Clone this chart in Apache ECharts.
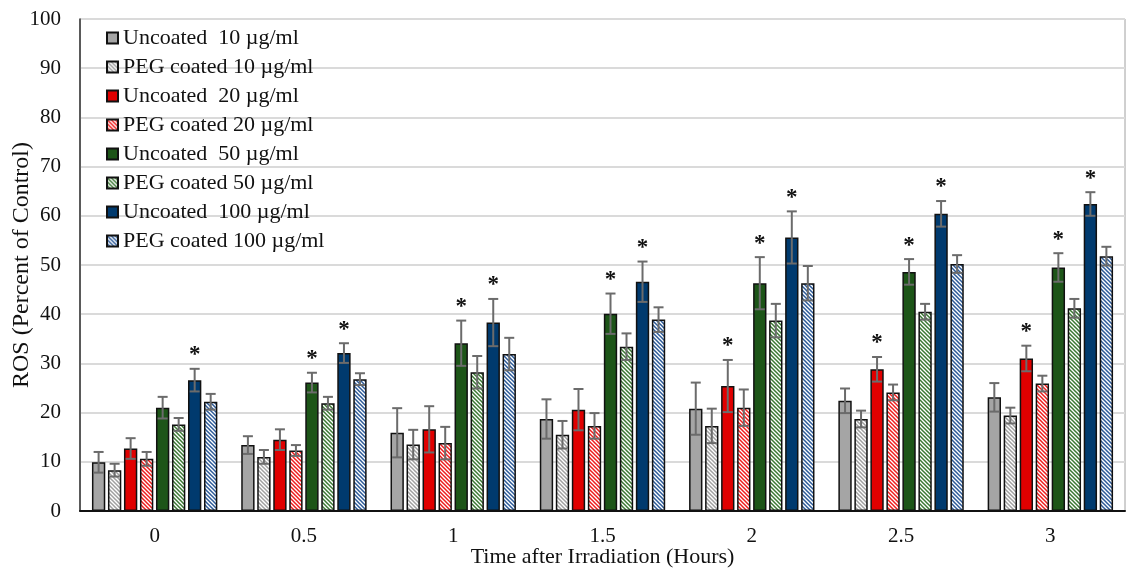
<!DOCTYPE html>
<html>
<head>
<meta charset="utf-8">
<script src="https://cdn.jsdelivr.net/npm/echarts@6/dist/echarts.min.js"></script>
<style>
  html, body { margin: 0; padding: 0; background: #fff; }
  #chart { width: 1129px; height: 569px; }
</style>
</head>
<body>
<div id="chart"></div>
<script>
// time points (hours)
const categories = ['0', '0.5', '1', '1.5', '2', '2.5', '3'];

// mean ROS (% of control)
const uncoated10  = [9.9, 13.4, 15.9, 18.7, 20.8, 22.4, 23.1];
const peg10       = [8.3, 11.0, 13.5, 15.5, 17.3, 18.7, 19.4];
const uncoated20  = [12.7, 14.5, 16.6, 20.6, 25.4, 28.8, 31.0];
const peg20       = [10.6, 12.3, 13.8, 17.3, 21.0, 24.1, 25.9];
const uncoated50  = [21.0, 26.1, 34.1, 40.1, 46.3, 48.6, 49.5];
const peg50       = [17.6, 21.9, 28.2, 33.4, 38.7, 40.5, 41.2];
const uncoated100 = [26.6, 32.1, 38.3, 46.6, 55.6, 60.4, 62.4];
const peg100      = [22.2, 26.8, 31.9, 38.9, 46.3, 50.2, 51.8];

// error bars (+/-)
const errU10  = [2.1, 1.8, 5.0, 4.0, 5.3, 2.5, 2.9];
const errP10  = [1.3, 1.4, 3.0, 2.8, 3.5, 1.7, 1.6];
const errU20  = [2.1, 2.1, 4.7, 4.2, 5.3, 2.5, 2.6];
const errP20  = [1.4, 1.1, 3.3, 2.6, 3.7, 1.6, 1.6];
const errU50  = [2.2, 2.0, 4.6, 4.1, 5.3, 2.6, 2.9];
const errP50  = [1.3, 1.3, 3.3, 2.7, 3.4, 1.6, 1.9];
const errU100 = [2.3, 2.0, 4.8, 4.1, 5.3, 2.6, 2.4];
const errP100 = [1.6, 1.2, 3.3, 2.5, 3.5, 1.8, 1.9];

// significance marks (1 = asterisk)
const starU20  = [0, 0, 0, 0, 1, 1, 1];
const starU50  = [0, 1, 1, 1, 1, 1, 1];
const starU100 = [1, 1, 1, 1, 1, 1, 1];
const noStar   = [0, 0, 0, 0, 0, 0, 0];

const FONT = '"Liberation Serif", "DejaVu Serif", serif';
const BAR_CAT_GAP = 0.16;
const BAR_GAP = 0.2;

// diagonal hatch for PEG coated bars
function hatch(color) {
  const c = document.createElement('canvas');
  c.width = 4; c.height = 4;
  const ctx = c.getContext('2d');
  ctx.fillStyle = '#fff';
  ctx.fillRect(0, 0, 4, 4);
  ctx.strokeStyle = color;
  ctx.lineWidth = 1.5;
  ctx.beginPath();
  ctx.moveTo(-1, -1); ctx.lineTo(5, 5);
  ctx.moveTo(-1, 3); ctx.lineTo(1, 5);
  ctx.moveTo(3, -1); ctx.lineTo(5, 1);
  ctx.stroke();
  return { image: c, repeat: 'repeat' };
}

const groups = [
  { name: 'Uncoated  10 \u00b5g/ml',  data: uncoated10,  err: errU10,  star: noStar,   color: '#a5a5a5' },
  { name: 'PEG coated 10 \u00b5g/ml', data: peg10,       err: errP10,  star: noStar,   color: hatch('#a0a0a0') },
  { name: 'Uncoated  20 \u00b5g/ml',  data: uncoated20,  err: errU20,  star: starU20,  color: '#e00000' },
  { name: 'PEG coated 20 \u00b5g/ml', data: peg20,       err: errP20,  star: noStar,   color: hatch('#ee1c1c') },
  { name: 'Uncoated  50 \u00b5g/ml',  data: uncoated50,  err: errU50,  star: starU50,  color: '#1d5518' },
  { name: 'PEG coated 50 \u00b5g/ml', data: peg50,       err: errP50,  star: noStar,   color: hatch('#3b7833') },
  { name: 'Uncoated  100 \u00b5g/ml', data: uncoated100, err: errU100, star: starU100, color: '#003a6e' },
  { name: 'PEG coated 100 \u00b5g/ml',data: peg100,      err: errP100, star: noStar,   color: hatch('#2c5a98') }
];

const n = groups.length;

// error bars + asterisks, placed at the same offset as bar k
function errorRenderer(k) {
  return function (params, api) {
    const idx = api.value(0);
    const mean = api.value(1);
    const err = api.value(2);
    const star = api.value(3);
    const band = api.size([1, 0])[0];
    const w = band * (1 - BAR_CAT_GAP) / (n + (n - 1) * BAR_GAP);
    const groupW = n * w + (n - 1) * BAR_GAP * w;
    const center = api.coord([idx, 0])[0];
    const x = center - groupW / 2 + k * w * (1 + BAR_GAP) + w / 2;
    const yHi = api.coord([idx, mean + err])[1];
    const yLo = api.coord([idx, mean - err])[1];
    const cap = 5;
    const style = { stroke: '#6b6b6b', lineWidth: 2 };
    const children = [
      { type: 'line', shape: { x1: x, y1: yHi, x2: x, y2: yLo }, style: style },
      { type: 'line', shape: { x1: x - cap, y1: yHi, x2: x + cap, y2: yHi }, style: style },
      { type: 'line', shape: { x1: x - cap, y1: yLo, x2: x + cap, y2: yLo }, style: style }
    ];
    if (star) {
      children.push({
        type: 'text',
        style: {
          text: '*', x: x, y: yHi - 2,
          align: 'center', verticalAlign: 'bottom',
          font: 'bold 23px ' + FONT, fill: '#111'
        }
      });
    }
    return { type: 'group', children: children };
  };
}

const series = [];
groups.forEach(g => {
  series.push({
    name: g.name,
    type: 'bar',
    data: g.data,
    barGap: (BAR_GAP * 100) + '%',
    barCategoryGap: (BAR_CAT_GAP * 100) + '%',
    itemStyle: { color: g.color, borderColor: '#111', borderWidth: 1.5 },
    animation: false
  });
});
groups.forEach((g, k) => {
  series.push({
    type: 'custom',
    renderItem: errorRenderer(k),
    data: g.data.map((v, i) => [i, v, g.err[i], g.star[i]]),
    z: 10,
    silent: true,
    animation: false
  });
});

const chart = echarts.init(document.getElementById('chart'));
chart.setOption({
  backgroundColor: '#fff',
  animation: false,
  grid: {
    left: 80, right: 4, top: 19, bottom: 58,
    outerBoundsMode: 'none', containLabel: false,
    show: true, borderColor: '#a0a0a0', borderWidth: 1
  },
  legend: {
    data: groups.map(g => g.name),
    orient: 'vertical',
    left: 101,
    top: 22,
    icon: 'rect',
    itemWidth: 11,
    itemHeight: 11,
    itemGap: 7,
    textStyle: { fontFamily: FONT, fontSize: 22, color: '#111', lineHeight: 22 }
  },
  xAxis: {
    type: 'category',
    data: categories,
    name: 'Time after Irradiation (Hours)',
    nameLocation: 'middle',
    nameGap: 35,
    nameMoveOverlap: false,
    nameTextStyle: { fontFamily: FONT, fontSize: 22, color: '#111' },
    axisLine: { lineStyle: { color: '#111', width: 2 } },
    axisTick: { show: false },
    axisLabel: { fontFamily: FONT, fontSize: 21, color: '#111', margin: 15 }
  },
  yAxis: {
    type: 'value',
    min: 0,
    max: 100,
    interval: 10,
    name: 'ROS (Percent of Control)',
    nameLocation: 'middle',
    nameGap: 46,
    nameMoveOverlap: false,
    nameTextStyle: { fontFamily: FONT, fontSize: 24, color: '#111' },
    axisLine: { show: true, lineStyle: { color: '#333', width: 1.5 } },
    axisTick: { show: false },
    axisLabel: { fontFamily: FONT, fontSize: 21, color: '#111', margin: 19 },
    splitLine: { lineStyle: { color: '#dadada', width: 2 } }
  },
  series: series
});
</script>
</body>
</html>
